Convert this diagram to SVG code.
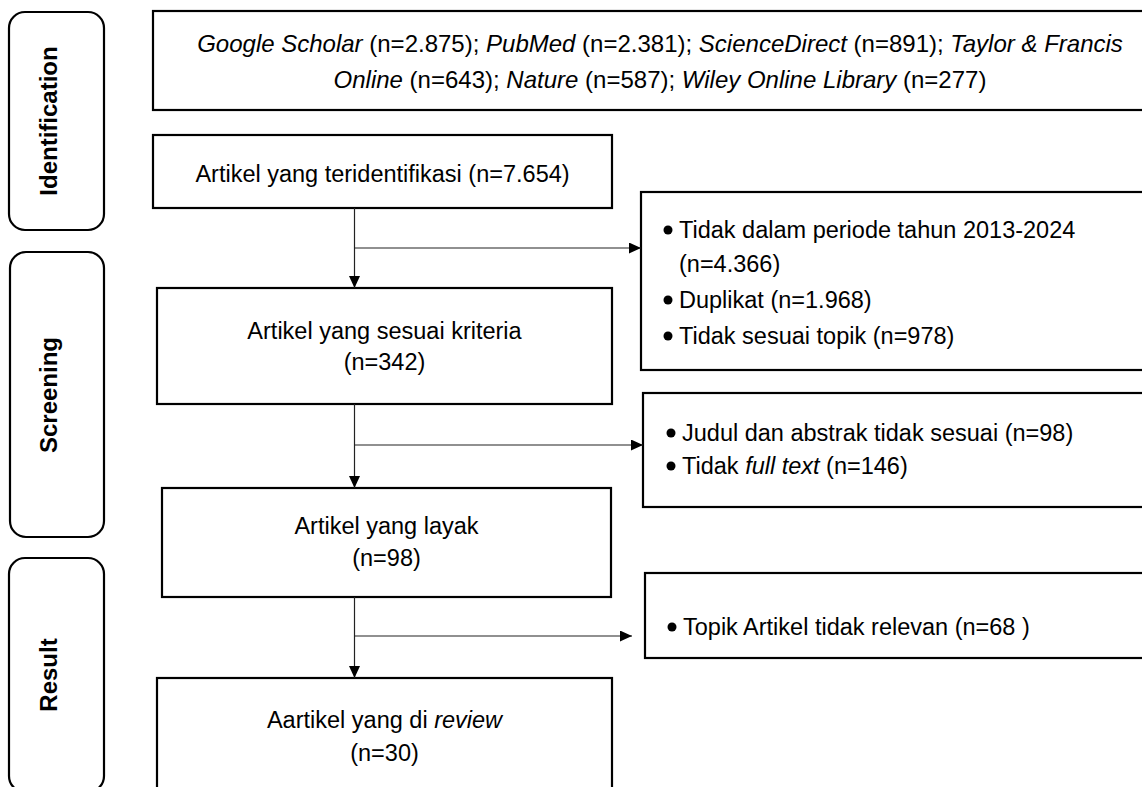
<svg xmlns="http://www.w3.org/2000/svg" width="1142" height="787" viewBox="0 0 1142 787">
<style>
.box{fill:#fff;stroke:#000;stroke-width:2.2}
.phase{fill:#fff;stroke:#000;stroke-width:2.2}
.t{font-family:"Liberation Sans",Arial,sans-serif;font-size:23.5px;fill:#000}
.big{font-size:24px}
.c{text-anchor:middle}
.ph{font-family:"Liberation Sans",Arial,sans-serif;font-size:24px;font-weight:bold;fill:#000;text-anchor:middle}
.i{font-style:italic}
.con{fill:none;stroke:#222;stroke-width:1.2}
</style>
<defs>
<marker id="arr" markerWidth="12" markerHeight="11" refX="12" refY="5.5" orient="auto" markerUnits="userSpaceOnUse">
<path d="M0,0 L12,5.5 L0,11 Z" fill="#000"/>
</marker>
</defs>
<rect width="1142" height="787" fill="#fff"/>

<g id="phase-identification">
<rect class="phase" x="9" y="12" width="95" height="218" rx="16"/>
<text class="ph" transform="translate(57,121) rotate(-90)">Identification</text>
</g>
<g id="phase-screening">
<rect class="phase" x="10" y="252" width="94" height="285" rx="16"/>
<text class="ph" transform="translate(57,395) rotate(-90)">Screening</text>
</g>
<g id="phase-result">
<rect class="phase" x="9" y="558" width="95" height="234" rx="16"/>
<text class="ph" transform="translate(57,675) rotate(-90)">Result</text>
</g>

<g id="sources">
<rect class="box" x="153" y="11" width="1014" height="99"/>
<text class="t big c" x="660" y="52"><tspan class="i">Google Scholar</tspan> (n=2.875); <tspan class="i">PubMed</tspan> (n=2.381); <tspan class="i">ScienceDirect</tspan> (n=891); <tspan class="i">Taylor &amp; Francis</tspan></text>
<text class="t big c" x="660" y="88"><tspan class="i">Online</tspan> (n=643); <tspan class="i">Nature</tspan> (n=587); <tspan class="i">Wiley Online Library</tspan> (n=277)</text>
</g>

<g id="identified">
<rect class="box" x="153" y="135" width="459" height="73"/>
<text class="t c" x="382.5" y="182">Artikel yang teridentifikasi (n=7.654)</text>
</g>

<g id="excluded-1">
<rect class="box" x="641" y="192" width="510" height="178"/>
<circle cx="668" cy="230" r="4.5"/>
<text class="t" x="679" y="238">Tidak dalam periode tahun 2013-2024</text>
<text class="t" x="679" y="272">(n=4.366)</text>
<circle cx="668" cy="300" r="4.5"/>
<text class="t" x="679" y="308">Duplikat (n=1.968)</text>
<circle cx="668" cy="336" r="4.5"/>
<text class="t" x="679" y="344">Tidak sesuai topik (n=978)</text>
</g>

<g id="criteria">
<rect class="box" x="157" y="288" width="455" height="116"/>
<text class="t c" x="384.5" y="339">Artikel yang sesuai kriteria</text>
<text class="t c" x="384.5" y="370">(n=342)</text>
</g>

<g id="excluded-2">
<rect class="box" x="643" y="393" width="510" height="114"/>
<circle cx="671" cy="433" r="4.5"/>
<text class="t" x="682" y="441">Judul dan abstrak tidak sesuai (n=98)</text>
<circle cx="671" cy="466" r="4.5"/>
<text class="t" x="682" y="474">Tidak <tspan class="i">full text</tspan> (n=146)</text>
</g>

<g id="eligible">
<rect class="box" x="162" y="488" width="449" height="109"/>
<text class="t c" x="386.5" y="534">Artikel yang layak</text>
<text class="t c" x="386.5" y="566">(n=98)</text>
</g>

<g id="excluded-3">
<rect class="box" x="645" y="573" width="510" height="85"/>
<circle cx="672" cy="627" r="4.5"/>
<text class="t" x="683" y="635">Topik Artikel tidak relevan (n=68 )</text>
</g>

<g id="reviewed">
<rect class="box" x="157" y="678" width="455" height="130"/>
<text class="t c" x="384.5" y="728">Aartikel yang di <tspan class="i">review</tspan></text>
<text class="t c" x="384.5" y="761">(n=30)</text>
</g>

<g id="connectors">
<line class="con" x1="354.5" y1="208" x2="354.5" y2="288" marker-end="url(#arr)"/>
<line class="con" x1="354.5" y1="248" x2="641" y2="248" marker-end="url(#arr)"/>
<line class="con" x1="354.5" y1="404" x2="354.5" y2="488" marker-end="url(#arr)"/>
<line class="con" x1="354.5" y1="445" x2="643" y2="445" marker-end="url(#arr)"/>
<line class="con" x1="354.5" y1="597" x2="354.5" y2="678" marker-end="url(#arr)"/>
<line class="con" x1="354.5" y1="636" x2="632" y2="636" marker-end="url(#arr)"/>
</g>
</svg>
